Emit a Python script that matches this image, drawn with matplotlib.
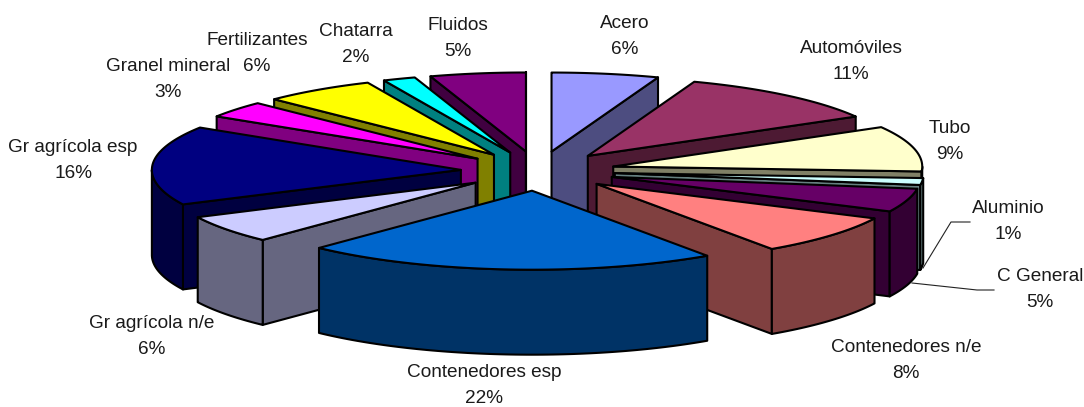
import numpy as np
import matplotlib
matplotlib.use("Agg")
import matplotlib.pyplot as plt
from matplotlib.patches import Polygon

# ---- data ----
names = ["Acero", "Automóviles", "Tubo", "Aluminio", "C General",
         "Contenedores n/e", "Contenedores esp", "Gr agrícola n/e",
         "Gr agrícola esp", "Granel mineral", "Fertilizantes", "Chatarra", "Fluidos"]
shares = [5.6, 11.1, 9.3, 1.4, 4.8, 8.2, 21.7, 5.7, 16.2, 3.4, 5.9, 1.7, 5.0]

# ---- style ----
top_colors = ["#9999FF", "#993366", "#FFFFCC", "#CCFFFF", "#660066", "#FF8080", "#0066CC",
              "#CCCCFF", "#000080", "#FF00FF", "#FFFF00", "#00FFFF", "#800080"]
label_centers = [(625, 35), (851, 60), (950, 140), (1008, 220), (1040, 288), (906, 359),
                 (484, 384), (152, 335), (73, 159), (168, 78), (257, 52), (356, 43), (458, 37)]
CX, CY, RX, RY, DEPTH, EXPLODE = 538, 171, 309, 79, 85, 0.25
LW = 1.5

plt.rcParams["font.family"] = ["Liberation Sans", "DejaVu Sans"]
fig = plt.figure(figsize=(10.84, 4.07), dpi=100)
ax = fig.add_axes([0, 0, 1, 1])
ax.set_xlim(0, 1084)
ax.set_ylim(407, 0)
ax.axis("off")


def darker(hex_color):
    return tuple(c / 2 for c in matplotlib.colors.to_rgb(hex_color))


def project(ox, oy, theta, z=0.0):
    return ox + RX * np.sin(theta), oy - RY * np.cos(theta) + z


def face(points, color, order):
    ax.add_patch(Polygon(points, closed=True, facecolor=color, edgecolor="black",
                         linewidth=LW, joinstyle="round", zorder=order))


bounds = np.radians(np.cumsum([0] + shares) / sum(shares) * 360)
mids = (bounds[:-1] + bounds[1:]) / 2
for rank, i in enumerate(sorted(range(len(shares)), key=lambda k: -np.cos(mids[k]))):
    a0, a1, mid = bounds[i], bounds[i + 1], mids[i]
    ox = CX + EXPLODE * RX * np.sin(mid)
    oy = CY - EXPLODE * RY * np.cos(mid)
    order = 2 + rank * 0.1
    side = darker(top_colors[i])
    for ang, visible in ((a0, np.sin(a0) < 0), (a1, np.sin(a1) > 0)):
        if visible:
            ex, ey = project(ox, oy, ang)
            face([(ox, oy), (ex, ey), (ex, ey + DEPTH), (ox, oy + DEPTH)], side, order)
    lo, hi = max(a0, np.pi / 2), min(a1, 3 * np.pi / 2)
    if hi > lo:
        t = np.linspace(lo, hi, 80)
        xs, ys = project(ox, oy, t)
        pts = list(zip(xs, ys)) + list(zip(xs[::-1], ys[::-1] + DEPTH))
        face(pts, side, order)
    t = np.linspace(a0, a1, 80)
    xs, ys = project(ox, oy, t)
    face([(ox, oy)] + list(zip(xs, ys)), top_colors[i], order + 0.01)

for name, share, (lx, ly) in zip(names, shares, label_centers):
    ax.text(lx, ly - 7, name, ha="center", va="baseline", fontsize=13.7,
            color="#1a1a1a", zorder=20)
    ax.text(lx, ly + 19, f"{share:.0f}%", ha="center", va="baseline", fontsize=13.7,
            color="#1a1a1a", zorder=20)

ax.plot([970, 951, 923], [222, 222, 268], color="#222222", lw=0.8, zorder=10)
ax.plot([994, 977, 912], [290, 290, 283], color="#222222", lw=0.8, zorder=10)

fig.savefig("out.png", dpi=100)
